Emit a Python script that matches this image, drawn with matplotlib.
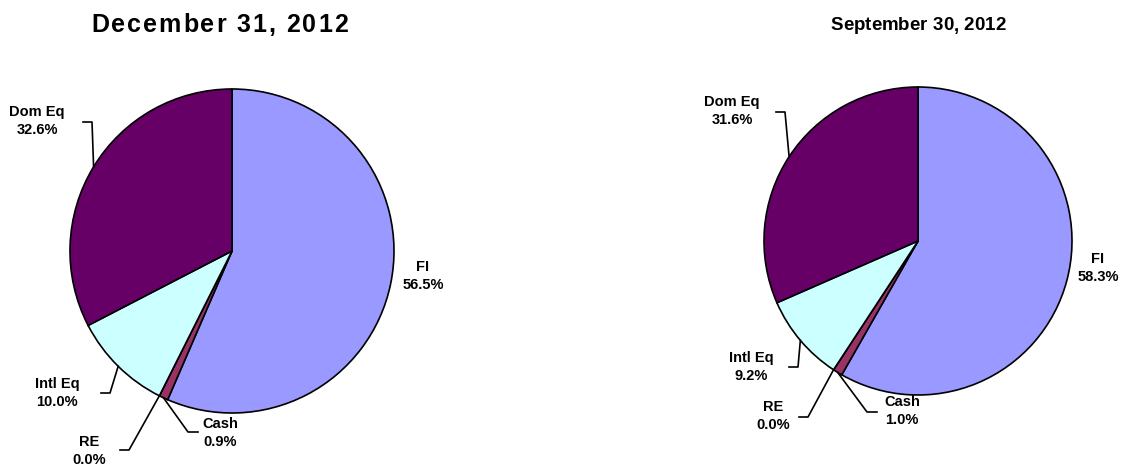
import numpy as np
import matplotlib
matplotlib.use("Agg")
import matplotlib.pyplot as plt
from matplotlib.font_manager import FontProperties, findfont
from matplotlib.ft2font import FT2Font

plt.rcParams['font.family'] = ['Liberation Sans', 'DejaVu Sans']

# ---- data ----
categories = ["FI", "Cash", "RE", "Intl Eq", "Dom Eq"]
dec_values = [56.5, 0.9, 0.0, 10.0, 32.6]
sep_values = [58.3, 1.0, 0.0, 9.2, 31.6]
titles = ["December 31, 2012", "September 30, 2012"]
colors = ["#9999FF", "#993366", "#FFFFCC", "#CCFFFF", "#660066"]

W, H = 1125, 467

# ---- layout (pixel coords, y measured from top) ----
pies = [
    dict(values=dec_values, title=titles[0], cx=232, cy=251, r=162,
         tx=219.5, ty=25, tsize=18, tspace=2.0,
         labels={"FI": ((423, 276), None),
                 "Cash": ((220, 433), (188, 432)),
                 "RE": ((89, 451), (129, 450)),
                 "Intl Eq": ((57, 393), (110, 393)),
                 "Dom Eq": ((37, 121), (92, 122))}),
    dict(values=sep_values, title=titles[1], cx=918, cy=241, r=154,
         tx=918, ty=26, tsize=13.5, tspace=0,
         labels={"FI": ((1098, 268), None),
                 "Cash": ((902, 411), (867, 412)),
                 "RE": ((773, 416), (808, 417)),
                 "Intl Eq": ((751, 367), (798, 367)),
                 "Dom Eq": ((732, 111), (785, 112))}),
]


def spaced_text(ax, x, y, s, size, spacing):
    # bold title with extra letter spacing, centred on x
    prop = FontProperties(family="Liberation Sans", weight="bold", size=size)
    font = FT2Font(findfont(prop))
    font.set_size(size, 100)
    adv = [font.load_char(ord(c)).linearHoriAdvance / 65536 for c in s]
    total = sum(adv) + spacing * (len(s) - 1)
    pos = x - total / 2
    for c, a in zip(s, adv):
        ax.text(pos, y, c, ha="left", va="center", fontproperties=prop)
        pos += a + spacing


fig = plt.figure(figsize=(W / 100, H / 100), dpi=100)
ax = fig.add_axes([0, 0, 1, 1])

for p in pies:
    wedges, _ = ax.pie(p["values"], colors=colors, startangle=90, counterclock=False,
                       center=(p["cx"], H - p["cy"]), radius=p["r"],
                       wedgeprops=dict(edgecolor="black", linewidth=1.2))
    spaced_text(ax, p["tx"], H - p["ty"], p["title"], p["tsize"], p["tspace"])
    for w, name, val in zip(wedges, categories, p["values"]):
        (lx, ly), elbow = p["labels"][name]
        ax.text(lx, H - ly, f"{name}\n{val:.1f}%", ha="center", va="center",
                fontsize=10.5, fontweight="bold", linespacing=1.4)
        if elbow is not None:
            mid = np.deg2rad((w.theta1 + w.theta2) / 2)
            ex = p["cx"] + p["r"] * np.cos(mid)
            ey = H - p["cy"] + p["r"] * np.sin(mid)
            start_x = elbow[0] + (-9 if elbow[0] > lx else 10)
            ax.plot([start_x, elbow[0], ex], [H - elbow[1], H - elbow[1], ey],
                    color="black", linewidth=1.2)

ax.set_xlim(0, W)
ax.set_ylim(0, H)
ax.set_aspect("equal")
ax.axis("off")

fig.savefig("out.png", dpi=100, facecolor="white")
